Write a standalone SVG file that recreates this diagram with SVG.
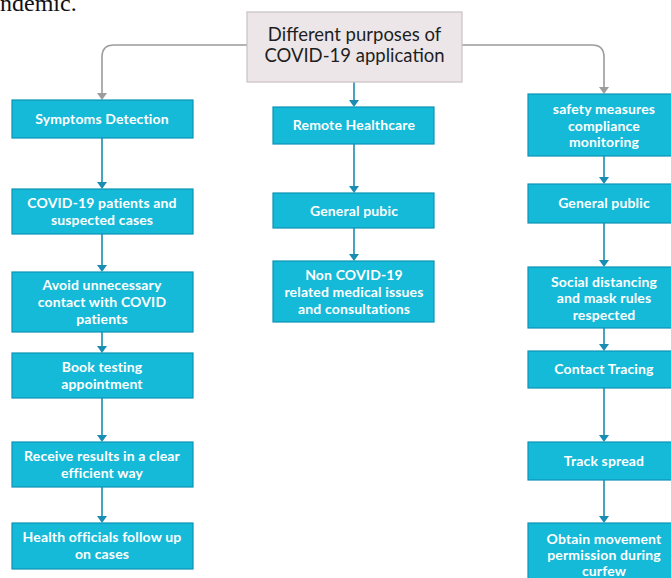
<svg xmlns="http://www.w3.org/2000/svg" width="671" height="578" viewBox="0 0 671 578">
<style>
.box{fill:#14bad8;stroke:#0d93b4;stroke-width:1.2}
.t{font-family:Lato,"Open Sans",sans-serif;font-weight:bold;font-size:14px;letter-spacing:0.15px;fill:#ffffff;text-anchor:middle}
.c{fill:none;stroke:#1a8db2;stroke-width:1.6}
.g{fill:none;stroke:#9c9c9c;stroke-width:1.6}
.root{fill:#ece6e9;stroke:#c9c1c5;stroke-width:1.2}
.rt{font-family:Lato,"Open Sans",sans-serif;font-size:18.5px;fill:#1e1e1e;text-anchor:middle}
</style>
<rect width="671" height="578" fill="#ffffff"/>
<text x="0" y="11" font-family="Liberation Serif,serif" font-size="24" fill="#111">ndemic.</text>
<g id="connectors">
<path class="g" d="M247,45 H114 Q102,45 102,57 V96"/>
<path class="g" d="M462,45 H592 Q604,45 604,57 V89"/>
<path class="c" d="M354,82 V103"/>
<path class="c" d="M102,138 V185"/>
<path class="c" d="M102,234 V268"/>
<path class="c" d="M102,332 V349"/>
<path class="c" d="M102,398 V438"/>
<path class="c" d="M102,487 V519"/>
<path class="c" d="M354,144 V189"/>
<path class="c" d="M354,228 V257"/>
<path class="c" d="M604,156 V180"/>
<path class="c" d="M604,223 V263"/>
<path class="c" d="M604,328 V347"/>
<path class="c" d="M604,388 V438"/>
<path class="c" d="M604,480 V519"/>
<g fill="#9c9c9c">
<path d="M97,93 L107,93 L102,100 Z"/>
<path d="M599,87 L609,87 L604,94 Z"/>
</g>
<g fill="#1a8db2">
<path d="M349,100 L359,100 L354,107 Z"/>
<path d="M97,182 L107,182 L102,189 Z"/>
<path d="M97,265 L107,265 L102,272 Z"/>
<path d="M97,346 L107,346 L102,353 Z"/>
<path d="M97,435 L107,435 L102,442 Z"/>
<path d="M97,516 L107,516 L102,523 Z"/>
<path d="M349,186 L359,186 L354,193 Z"/>
<path d="M349,254 L359,254 L354,261 Z"/>
<path d="M599,177 L609,177 L604,184 Z"/>
<path d="M599,260 L609,260 L604,267 Z"/>
<path d="M599,344 L609,344 L604,351 Z"/>
<path d="M599,435 L609,435 L604,442 Z"/>
<path d="M599,516 L609,516 L604,523 Z"/>
</g>
</g>
<g id="root">
<rect class="root" x="247" y="12" width="215" height="70"/>
<text class="rt" x="354.5" y="41">Different purposes of</text>
<text class="rt" x="354.5" y="62">COVID-19 application</text>
</g>
<g id="symptoms"><rect class="box" x="12" y="100" width="181" height="38"/><text class="t" x="102" y="124">Symptoms Detection</text></g>
<g id="patients"><rect class="box" x="12" y="189" width="181" height="45"/><text class="t" x="102" y="208">COVID-19 patients and</text><text class="t" x="102" y="225">suspected cases</text></g>
<g id="avoid"><rect class="box" x="12" y="272" width="181" height="60"/><text class="t" x="102" y="290">Avoid unnecessary</text><text class="t" x="102" y="307">contact with COVID</text><text class="t" x="102" y="324">patients</text></g>
<g id="book"><rect class="box" x="12" y="353" width="181" height="45"/><text class="t" x="102" y="372">Book testing</text><text class="t" x="102" y="389">appointment</text></g>
<g id="receive"><rect class="box" x="12" y="442" width="181" height="45"/><text class="t" x="102" y="461">Receive results in a clear</text><text class="t" x="102" y="478">efficient way</text></g>
<g id="health"><rect class="box" x="12" y="523" width="181" height="46"/><text class="t" x="102" y="542">Health officials follow up</text><text class="t" x="102" y="559">on cases</text></g>
<g id="remote"><rect class="box" x="273" y="107" width="161" height="37"/><text class="t" x="354" y="130">Remote Healthcare</text></g>
<g id="pubic"><rect class="box" x="273" y="193" width="161" height="35"/><text class="t" x="354" y="216">General pubic</text></g>
<g id="noncovid"><rect class="box" x="273" y="261" width="161" height="61"/><text class="t" x="354" y="280">Non COVID-19</text><text class="t" x="354" y="297">related medical issues</text><text class="t" x="354" y="314">and consultations</text></g>
<g id="safety"><rect class="box" x="528" y="94" width="152" height="62"/><text class="t" x="604" y="114">safety measures</text><text class="t" x="604" y="131">compliance</text><text class="t" x="604" y="147">monitoring</text></g>
<g id="public"><rect class="box" x="528" y="184" width="152" height="39"/><text class="t" x="604" y="208">General public</text></g>
<g id="social"><rect class="box" x="528" y="267" width="152" height="61"/><text class="t" x="604" y="287">Social distancing</text><text class="t" x="604" y="303">and mask rules</text><text class="t" x="604" y="320">respected</text></g>
<g id="tracing"><rect class="box" x="528" y="351" width="152" height="37"/><text class="t" x="604" y="374">Contact Tracing</text></g>
<g id="spread"><rect class="box" x="528" y="442" width="152" height="38"/><text class="t" x="604" y="466">Track spread</text></g>
<g id="obtain"><rect class="box" x="528" y="523" width="152" height="70"/><text class="t" x="604" y="544">Obtain movement</text><text class="t" x="604" y="560">permission during</text><text class="t" x="604" y="576">curfew</text></g>
</svg>
